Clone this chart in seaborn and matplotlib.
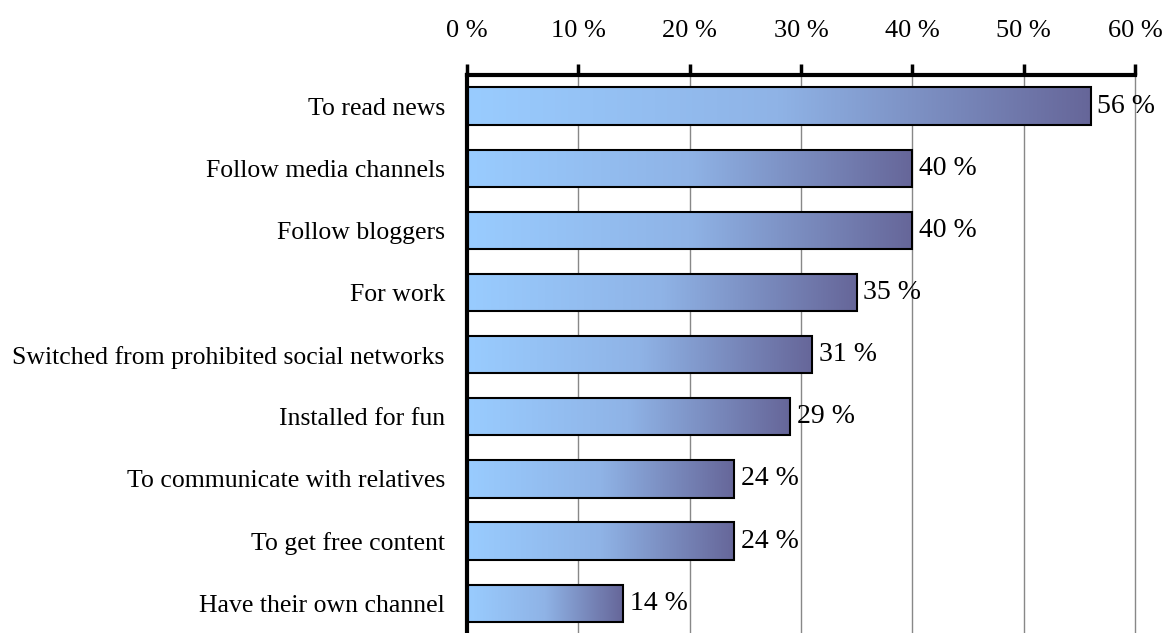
import matplotlib
matplotlib.use("Agg")
import matplotlib.pyplot as plt
import numpy as np
import pandas as pd
import seaborn as sns
from matplotlib.colors import LinearSegmentedColormap

sns.set_style("white")
plt.rcParams["font.family"] = ["Liberation Serif", "DejaVu Serif"]
plt.rcParams["text.color"] = "black"
plt.rcParams["xtick.color"] = "black"
plt.rcParams["ytick.color"] = "black"

categories = [
    "To read news",
    "Follow media channels",
    "Follow bloggers",
    "For work",
    "Switched from prohibited social networks",
    "Installed for fun",
    "To communicate with relatives",
    "To get free content",
    "Have their own channel",
]
shares = [56, 40, 40, 35, 31, 29, 24, 24, 14]
ticks = [0, 10, 20, 30, 40, 50, 60]

df = pd.DataFrame({"reason": categories, "share": shares})

fig = plt.figure(figsize=(11.72, 6.33), dpi=100)
ax = fig.add_axes([0.3985, -0.002, 0.57, 0.8835])

sns.barplot(data=df, x="share", y="reason", orient="h", color="#99ccff",
            width=0.6, edgecolor="black", linewidth=1.5, ax=ax, zorder=3)

# gradient fill, light blue to slate, per bar
cmap = LinearSegmentedColormap.from_list("grad", ["#99ccff", "#8fb3e6", "#666699"])
grad = np.linspace(0, 1, 256).reshape(1, -1)
for patch in ax.patches:
    x0, y0 = patch.get_x(), patch.get_y()
    w, h = patch.get_width(), patch.get_height()
    patch.set_facecolor("none")
    im = ax.imshow(grad, cmap=cmap, aspect="auto", extent=[x0, x0 + w, y0 + h, y0],
                   zorder=2.5, interpolation="bicubic")
    im.set_clip_path(patch)

for i, v in enumerate(shares):
    ax.text(v + 0.6, i, f"{v} %", va="center", ha="left", fontsize=20, zorder=4)

ax.set_xlim(0, 60)
ax.set_ylim(8.5, -0.5)
ax.set_xticks(ticks)
ax.set_xticklabels([f"{t} %" for t in ticks], fontsize=19)
ax.xaxis.tick_top()
ax.tick_params(axis="x", direction="out", length=8, width=2.5, pad=16)
ax.set_yticks(range(len(categories)))
ax.set_yticklabels(categories, fontsize=18.5)
ax.set_yticks(np.arange(-0.5, len(categories), 1.0), minor=True)
ax.tick_params(axis="y", which="major", length=0, pad=16)
ax.tick_params(axis="y", which="minor", direction="out", length=6, width=2.5)
ax.set_xlabel("")
ax.set_ylabel("")

ax.grid(axis="x", color="#888888", linewidth=1, zorder=0)
for gl in ax.get_xgridlines():
    gl.set_clip_on(False)
ax.set_axisbelow(True)
for side in ["right", "bottom"]:
    ax.spines[side].set_visible(False)
for side in ["top", "left"]:
    ax.spines[side].set_linewidth(3)
    ax.spines[side].set_color("black")

fig.savefig("out.png", dpi=100)
